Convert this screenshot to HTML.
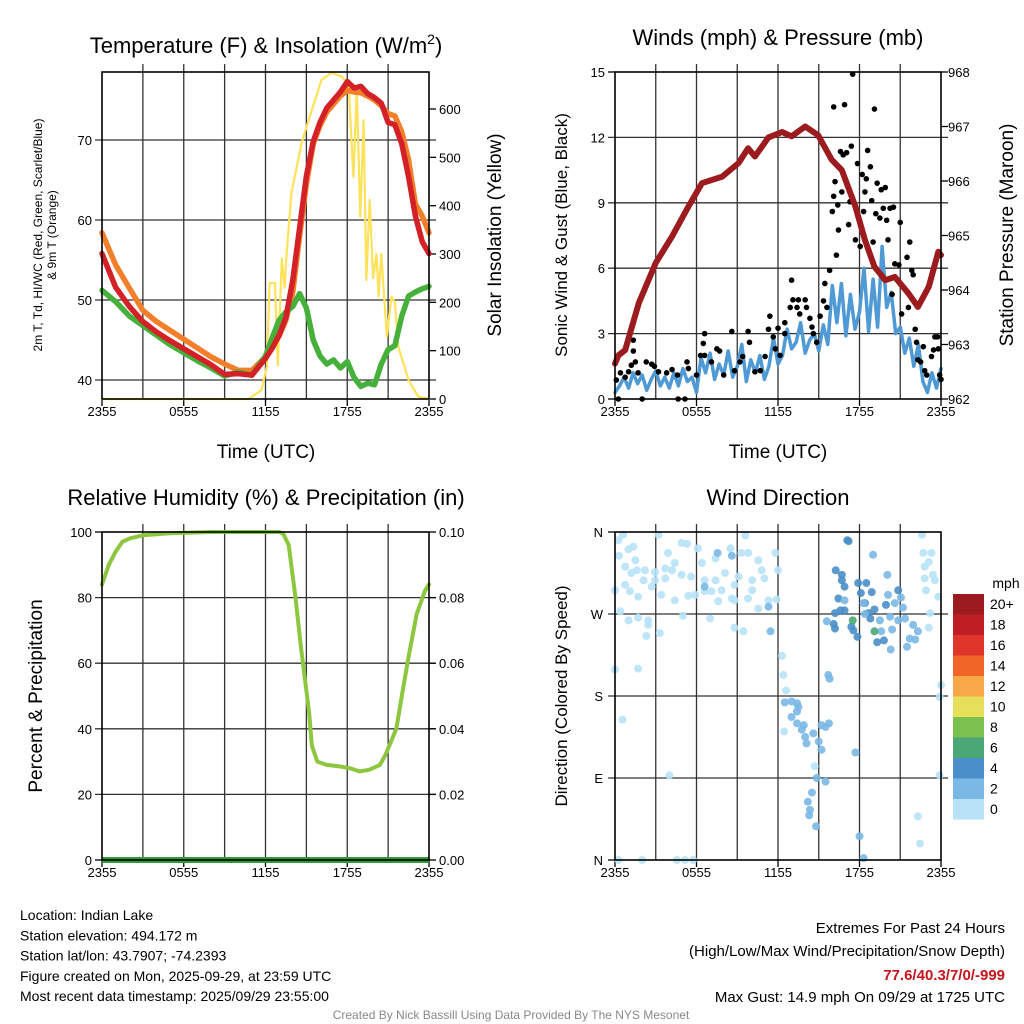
<!DOCTYPE html>
<html><head><meta charset="utf-8"><style>
body{margin:0;background:#fff;}
svg{display:block;font-family:"Liberation Sans",sans-serif;}
</style></head><body>
<svg id="c" width="1024" height="1024" viewBox="0 0 1024 1024"></svg>
<script>
// ---- data ----
const tT=[0,1,2,3,4,5,6,7,8,9,10,11,12,12.5,13,13.5,14,14.5,15,15.5,16,16.5,17,17.5,18,18.5,19,19.5,20,20.5,21,21.5,22,22.5,23,23.5,24];
const tempRed=[55.8,51.6,49.2,47.3,46.0,44.9,43.9,42.9,41.9,40.7,40.8,40.6,42.7,44.0,45.6,47.8,52.5,59.0,65.5,69.8,72.2,74.0,75.0,76.0,77.3,76.5,76.7,75.8,75.3,74.6,72.2,71.9,69.5,65.4,60.5,57.3,55.8];
const temp9m=[58.4,54.4,51.5,48.7,47.3,46.2,45.1,44.0,42.9,42.0,41.2,41.2,42.9,44.2,45.5,47.5,51.0,58.0,64.5,69.5,71.8,73.5,74.5,75.5,76.2,76.0,75.9,75.5,75.0,74.3,73.3,73.0,71.0,67.5,62.0,60.5,58.4];
const dewpt=[51.2,49.8,48.0,46.8,45.6,44.4,43.4,42.4,41.5,40.5,41.0,40.6,43.0,45.3,47.5,48.5,49.2,50.8,49.0,45.0,43.0,42.0,42.5,41.5,42.3,40.3,39.2,39.6,39.4,42.0,43.8,44.3,48.0,50.5,51.0,51.4,51.7];
const tSol=[0,10.73,11.7,12.1,12.3,12.7,12.9,13.2,13.4,13.55,13.9,14.65,15.4,16.1,16.85,17.6,18.1,18.45,18.7,18.95,19.2,19.4,19.65,19.9,20.15,20.3,20.5,20.9,21.25,21.5,21.75,22.5,23.2,24];
const solar=[0,0,18,67,240,240,70,290,230,300,426,530,598,660,675,667,650,460,640,377,577,246,412,250,300,212,300,129,212,200,108,39,5,0];
const tPres=[0,0.25,0.75,1.75,3.0,4.2,5.4,6.4,7.9,9.1,9.8,10.3,11.3,12.3,13.0,14.0,14.95,15.95,16.7,17.7,18.4,19.1,19.9,20.6,21.6,22.3,23.1,23.8,24];
const pressure=[962.65,962.8,962.9,963.76,964.5,964.98,965.53,965.96,966.08,966.33,966.6,966.45,966.8,966.9,966.82,967.0,966.84,966.39,966.2,965.53,964.92,964.43,964.18,964.24,963.94,963.69,964.06,964.7,964.64];
const wind=[0.3,0.6,1.0,0.5,1.2,0.7,1.1,0.4,0.9,1.3,0.6,1.0,0.5,1.2,0.6,1.4,0.8,1.0,0.3,1.9,1.2,2.1,0.9,1.6,1.1,2.2,1.0,1.5,2.5,0.8,1.8,1.2,2.0,0.9,1.5,2.8,1.6,2.0,3.2,2.3,2.6,3.5,2.1,2.7,3.0,2.2,3.4,2.5,5.2,3.5,5.3,2.9,4.8,3.2,4.0,6.0,3.1,5.5,3.3,7.0,4.2,4.9,3.0,3.3,2.1,2.8,1.5,2.5,0.8,0.3,1.2,0.5,1.4];
const gustT=[0.1,0.4,0.75,1.0,1.35,1.35,1.5,1.2,1.7,2.3,2.7,2.9,3.2,3.8,4.2,4.6,5.3,5.4,6.0,6.3,6.5,6.6,6.6,7.1,7.5,7.7,8.0,8.6,8.8,9.2,9.4,9.8,9.9,10.3,10.7,11.05,11.3,11.4,11.65,11.8,12.0,12.15,12.5,12.5,12.9,13.0,13.1,13.4,13.5,13.6,14.0,14.1,14.35,14.6,14.85,14.5,15.1,15.35,15.45,15.6,15.8,16.0,16.1,16.1,16.2,16.3,16.4,16.45,16.6,16.7,16.8,16.9,17.05,17.2,17.3,17.4,17.5,17.7,17.85,18.05,18.2,18.3,18.4,18.5,18.6,18.8,18.9,19.0,19.1,19.2,19.3,19.5,19.6,19.75,19.9,20.0,20.1,20.25,20.4,20.5,20.6,20.9,21.0,21.1,21.5,21.6,21.7,21.85,21.95,22.1,22.2,22.3,22.5,22.7,22.8,22.95,23.3,23.45,23.55,23.75,23.8,23.9,24,2.0,4.65,5.15,0.25];
const gustV=[0.87,1.2,1.0,1.25,2.7,2.2,1.7,1.55,1.2,1.7,1.6,1.5,1.25,1.2,1.35,1.1,1.7,1.4,1.1,2.0,2.55,3.0,2.0,1.7,2.3,2.2,1.1,3.1,1.3,1.7,1.95,3.1,2.6,1.25,1.3,1.95,3.2,3.8,2.85,2.3,3.25,2.0,3.0,3.5,4.2,5.45,4.55,4.2,4.55,3.9,4.55,4.2,3.7,3.0,2.6,3.3,3.8,4.5,5.3,4.2,5.9,8.6,9.3,13.4,9.97,6.6,8.9,7.75,11.35,9.5,11.2,13.5,11.3,8.0,9.05,11.6,14.9,7.3,10.8,7.0,10.3,8.6,9.5,10.1,11.4,10.65,9.1,7.2,13.3,8.5,9.9,8.3,9.6,8.75,9.7,8.2,7.3,8.75,4.8,8.8,6.2,6.15,8.1,3.9,6.5,4.2,7.2,5.9,5.7,3.2,2.6,1.8,1.7,2.4,1.3,1.1,1.95,2.25,2.85,2.85,2.3,1.1,0.9,0,0,0,0];
const tRH=[0,0.5,1,1.5,2,3,5,8,11,13,13.3,13.7,14.2,14.6,14.9,15.2,15.4,15.8,16.5,17.5,18.2,18.9,19.6,20.4,20.8,21.1,21.6,22.0,22.5,23.1,23.7,24];
const rh=[84,90,94,97,98,99,99.6,100,100,100,99.5,96,80,65,55,45,35,30,29,28.5,28,27,27.5,29,32,35,40,50,62,75,82,84];
const tPrecip=[0,24];
const precip=[0,0];
const dirT=[0.25,0.6,0.3,1.0,1.35,1.5,0.75,1.2,1.6,2.2,2.95,3.2,3.9,4.9,5.3,6.1,7.4,8.5,9.3,9.8,9.6,10.55,11.8,12.0,10.8,10.1,9.1,8.1,7.4,6.6,5.6,4.9,4.2,3.7,2.95,2.7,1.7,1.1,0.75,0,3.4,4.4,5.4,5.9,6.6,7.1,7.85,8.6,8.8,7.6,9.8,10.55,11.3,11.9,0.4,1.0,1.7,2.45,2.45,2.3,3.3,5.0,7.0,8.8,9.45,6.4,4.4,3.7,2.1,11.0,10.1,8.8,
7.55,8.6,6.6,11.3,11.45,
22.6,22.7,23.3,23.1,22.8,23.4,22.8,23.55,23.8,22.9,23.2,23.1,24,23.9,23.9,22.3,22.45,
0,1.7,0.55,4.0,12.3,12.4,12.6,12.45,14.7,0.25,2.0,4.55,5.15,5.75,
12.5,13.0,13.4,13.5,13.4,13.0,13.4,13.75,13.9,14.0,14.1,14.6,15.0,15.2,15.5,15.75,15.2,15.7,15.8,14.85,15.5,14.5,14.2,14.35,14.3,14.8,17.7,18.0,18.3,
17.2,17.1,16.25,16.7,16.7,16.9,17.9,18.5,18.1,18.9,16.45,16.9,16.6,16.2,16.1,16.2,17.4,17.55,17.85,18.65,18.8,19.3,19.8,19.95,20.85,19.1,18.4,
19.0,20.05,20.1,20.6,21.2,21.05,20.25,20.85,21.35,21.95,22.3,21.7,21.5,22.1,20.3,20.4,19.5,19.6,15.6,18.4,16.9,18.3,
17.5,19.1];
const dirV=[351,357,334,341,344,329,322,315,318,318,316,357,337,348,347,342,331,342,337,337,356,329,337,318,318,307,311,315,307,307,311,313,318,320,307,300,289,295,302,296,291,285,290,291,295,295,296,287,285,284,287,276,285,286,273,263,266,263,258,246,249,268,265,255,251,326,326,309,307,309,296,302,
337,334,300,278,251,
357,337,337,327,322,313,309,307,289,296,271,255,192,179,93,48,18,
209,210,154,93,224,203,186,141,103,0,0,0,0,0,
173,174,172,168,163,157,150,143,148,135,128,139,130,148,146,150,121,203,199,90,86,74,64,55,49,37,118,26,2,
350,351,318,313,307,300,304,304,293,294,287,274,274,271,259,254,256,252,245,271,265,239,241,280,296,275,282,
335,313,291,282,277,288,267,263,265,258,251,243,234,242,231,253,263,251,262,270,285,282,
263,251];
const dirSpd=[1,1,1,1,1,1,1,1,1,1,1,1,1,1,1,1,1,1,1,1,1,1,1,1,1,1,1,1,1,1,1,1,1,1,1,1,1,1,1,1,1,1,1,1,1,1,1,1,1,1,1,1,1,1,1,1,1,1,1,1,1,1,1,1,1,1,1,1,1,1,1,1,
3,3,3,3,3,
1,1,1,1,1,1,1,1,1,1,1,1,1,1,1,1,1,
1,1,1,1,1,1,1,1,1,1,1,1,1,1,
3,3,3,3,3,3,3,3,3,3,3,3,3,3,3,3,3,3,3,3,3,3,3,3,3,3,3,3,3,
5,5,5,5,5,5,5,5,5,5,5,5,5,5,5,5,5,5,5,5,5,5,5,5,5,5,5,
3,3,3,3,3,3,3,3,3,3,3,3,3,3,3,3,3,3,3,3,3,3,
7,7];
const barLabels=['20+','18','16','14','12','10','8','6','4','2','0'];
const barColors=['#9b1b1e','#be1e24','#e0352b','#f26529','#f9a847','#e6df5a','#7cc04f','#4aa876','#4a8fc9','#7ab8e6','#b8e2f8'];
const xLabels=['2355','0555','1155','1755','2355'];

// ---- helpers ----
const NS='http://www.w3.org/2000/svg';
const svg=document.getElementById('c');
function el(tag,attrs,parent){const e=document.createElementNS(NS,tag);for(const k in attrs)e.setAttribute(k,attrs[k]);(parent||svg).appendChild(e);return e;}
function txt(x,y,s,size,anchor,parent,extra){const e=el('text',Object.assign({x:x,y:y,'font-size':size,'text-anchor':anchor||'middle',fill:'#000'},extra||{}),parent);e.textContent=s;return e;}
function lin(d0,d1,r0,r1){return v=>r0+(v-d0)/(d1-d0)*(r1-r0);}

function panel(L,T,R,B,name){
  const g=el('g',{});
  
  
  const sx=lin(0,24,L,R);
  for(let i=1;i<8;i++){const x=sx(i*3);el('line',{x1:x,y1:T-8,x2:x,y2:B,stroke:'#333','stroke-width':1.3},g);}
  for(let i=0;i<5;i++){const x=sx(i*6);el('line',{x1:x,y1:B,x2:x,y2:B+7,stroke:'#000','stroke-width':1.3},g);
    const t=txt(x,B+17,xLabels[i],13,'middle',g);
    }
  return {g,sx};
}
function frame(L,T,R,B,g){el('rect',{x:L,y:T,width:R-L,height:B-T,fill:'none',stroke:'#000','stroke-width':1.6},g);}
function hgrid(g,L,R,y,ext){el('line',{x1:L-ext,y1:y,x2:R+ext,y2:y,stroke:'#333','stroke-width':1.3},g);}
function path(xs,ys,fx,fy,attrs,g,name){let d='';for(let i=0;i<xs.length;i++)d+=(i?'L':'M')+fx(xs[i]).toFixed(1)+','+fy(ys[i]).toFixed(1);
  const p=el('path',Object.assign({d:d,fill:'none','stroke-linejoin':'round','stroke-linecap':'round'},attrs),g);
  return p;}

// ---- Panel 1 ----
{const L=102,T=72,R=429,B=399;const {g,sx}=panel(L,T,R,B,'temperature-panel');
 const sy=lin(40,70,380,140), sr=lin(0,600,399,109);
 [40,50,60,70].forEach(v=>{hgrid(g,L,R,sy(v),7);txt(L-10,sy(v)+5,String(v),13,'end',g);});
 [0,100,200,300,400,500,600].forEach(v=>{el('line',{x1:R,y1:sr(v),x2:R+7,y2:sr(v),stroke:'#000','stroke-width':1.3},g);txt(R+10,sr(v)+5,String(v),13,'start',g);});
 path(tSol,solar,sx,sr,{stroke:'#fde25a','stroke-width':2.2},g,'solar-line');
 path(tT,temp9m,sx,sy,{stroke:'#f47f2a','stroke-width':5.5},g,'temp-9m-line');
 path(tT,dewpt,sx,sy,{stroke:'#45b03a','stroke-width':5.5},g,'dewpoint-line');
 path(tT,tempRed,sx,sy,{stroke:'#d42027','stroke-width':5.5},g,'temp-2m-line');
 frame(L,T,R,B,g);
 const t1=el('text',{x:266,y:53,'font-size':22,'text-anchor':'middle',fill:'#000'},g);
 
 const a=el('tspan',{},t1);a.textContent='Temperature (F) & Insolation (W/m';
 const b=el('tspan',{'font-size':14,dy:-9},t1);b.textContent='2';
 const c2=el('tspan',{dy:9},t1);c2.textContent=')';
 txt(266,458,'Time (UTC)',19,'middle',g);
 txt(0,0,'2m T, Td, HI/WC (Red, Green, Scarlet/Blue)',12,'middle',g,{transform:'translate(42,235) rotate(-90)'});
 txt(0,0,'& 9m T (Orange)',12,'middle',g,{transform:'translate(56,235) rotate(-90)'});
 txt(0,0,'Solar Insolation (Yellow)',19,'middle',g,{transform:'translate(501,235) rotate(-90)'});
}
// ---- Panel 2 ----
{const L=615,T=72,R=941,B=399;const {g,sx}=panel(L,T,R,B,'winds-panel');
 const sy=lin(0,15,399,72), sp=lin(962,968,399,72);
 [0,3,6,9,12,15].forEach(v=>{if(v>0&&v<15)hgrid(g,L,R,sy(v),7);else el('line',{x1:L-7,y1:sy(v),x2:L,y2:sy(v),stroke:'#000','stroke-width':1.3},g);txt(L-10,sy(v)+5,String(v),13,'end',g);});
 [962,963,964,965,966,967,968].forEach(v=>{el('line',{x1:R,y1:sp(v),x2:R+7,y2:sp(v),stroke:'#000','stroke-width':1.3},g);txt(R+7,sp(v)+5,String(v),13,'start',g);});
 const tW=wind.map((v,i)=>i/3);
 path(tW,wind,sx,sy,{stroke:'#4f9ad5','stroke-width':3.5},g,'sonic-wind-line');
 for(let i=0;i<gustT.length;i++){const c=el('circle',{cx:sx(gustT[i]),cy:sy(gustV[i]),r:2.8,fill:'#000'},g);
  
  }
 path(tPres,pressure,sx,sp,{stroke:'#9b1b1e','stroke-width':6},g,'pressure-line');
 frame(L,T,R,B,g);
 txt(778,45,'Winds (mph) & Pressure (mb)',22,'middle',g);
 txt(778,458,'Time (UTC)',19,'middle',g);
 txt(0,0,'Sonic Wind & Gust (Blue, Black)',17,'middle',g,{transform:'translate(567,235) rotate(-90)'});
 txt(0,0,'Station Pressure (Maroon)',19,'middle',g,{transform:'translate(1013,235) rotate(-90)'});
}
// ---- Panel 3 ----
{const L=102,T=532,R=429,B=860;const {g,sx}=panel(L,T,R,B,'humidity-panel');
 const sy=lin(0,100,860,532), sp=lin(0,0.1,860,532);
 [0,20,40,60,80,100].forEach(v=>{if(v>0&&v<100)hgrid(g,L,R,sy(v),7);else el('line',{x1:L-7,y1:sy(v),x2:L,y2:sy(v),stroke:'#000','stroke-width':1.3},g);txt(L-10,sy(v)+5,String(v),13,'end',g);});
 [0,0.02,0.04,0.06,0.08,0.1].forEach(v=>{el('line',{x1:R,y1:sp(v),x2:R+7,y2:sp(v),stroke:'#000','stroke-width':1.3},g);txt(R+10,sp(v)+5,v.toFixed(2),13,'start',g);});
 path(tRH,rh,sx,sy,{stroke:'#8dc63f','stroke-width':4},g,'rh-line');
 path(tPrecip,precip,sx,sp,{stroke:'#2e9a3a','stroke-width':6,'stroke-linecap':'butt'},g,'precip-line');
 frame(L,T,R,B,g);
 txt(266,505,'Relative Humidity (%) & Precipitation (in)',22,'middle',g);
 txt(0,0,'Percent & Precipitation',19,'middle',g,{transform:'translate(42,696) rotate(-90)'});
}
// ---- Panel 4 ----
{const L=615,T=532,R=941,B=860;const {g,sx}=panel(L,T,R,B,'wind-direction-panel');
 const sy=lin(0,360,860,532);
 const dl=['N','E','S','W','N'];
 [0,90,180,270,360].forEach((v,i)=>{if(v>0&&v<360)hgrid(g,L,R,sy(v),7);else el('line',{x1:L-7,y1:sy(v),x2:L,y2:sy(v),stroke:'#000','stroke-width':1.3},g);txt(L-12,sy(v)+5,dl[i],13,'end',g);});
 function col(s){const idx=Math.min(10,Math.floor(s/2));return barColors[10-idx];}
 for(let i=0;i<dirT.length;i++){const c=el('circle',{cx:sx(dirT[i]),cy:sy(dirV[i]),r:4,fill:col(dirSpd[i]),'fill-opacity':0.9},g);
  
  }
 frame(L,T,R,B,g);
 txt(778,505,'Wind Direction',22,'middle',g);
 txt(0,0,'Direction (Colored By Speed)',17,'middle',g,{transform:'translate(567,696) rotate(-90)'});
 const lg=el('g',{},g);
 
 
 txt(1006,588,'mph',14,'middle',lg);
 for(let i=0;i<11;i++){el('rect',{x:953,y:594+i*20.5,width:31,height:20.6,fill:barColors[i]},lg);txt(990,609+i*20.5,barLabels[i],14,'start',lg);}
}
// ---- footer text ----
{const g=el('g',{});
 ['Location: Indian Lake','Station elevation: 494.172 m','Station lat/lon: 43.7907; -74.2393','Figure created on Mon, 2025-09-29, at 23:59 UTC','Most recent data timestamp: 2025/09/29 23:55:00'].forEach((s,i)=>txt(20,920+i*20.3,s,14,'start',g));
 const h=el('g',{});
 txt(1005,933,'Extremes For Past 24 Hours',15,'end',h);
 txt(1005,956,'(High/Low/Max Wind/Precipitation/Snow Depth)',15,'end',h);
 txt(1005,980,'77.6/40.3/7/0/-999',15,'end',h,{fill:'#c4161c','font-weight':'bold'});
 txt(1005,1002,'Max Gust: 14.9 mph On 09/29 at 1725 UTC',15,'end',h);
 const f=txt(511,1019,'Created By Nick Bassill Using Data Provided By The NYS Mesonet',12,'middle',null,{fill:'#888'});
 
}
</script>
</body></html>
